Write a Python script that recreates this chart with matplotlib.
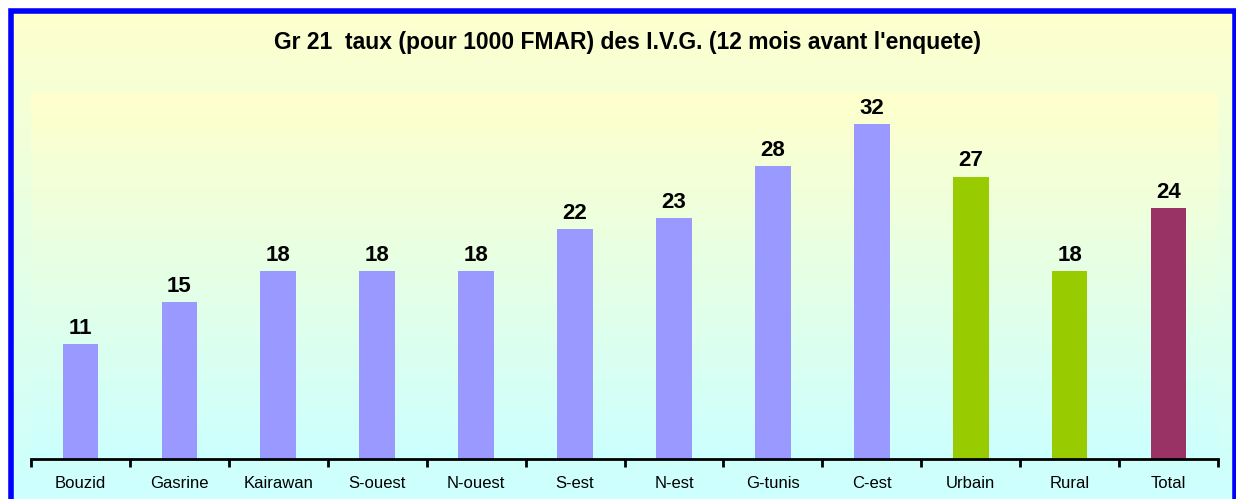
import matplotlib
matplotlib.use("Agg")
import matplotlib.pyplot as plt
import numpy as np
from matplotlib.colors import LinearSegmentedColormap
from matplotlib.patches import Rectangle

categories = ["Bouzid", "Gasrine", "Kairawan", "S-ouest", "N-ouest", "S-est",
              "N-est", "G-tunis", "C-est", "Urbain", "Rural", "Total"]
values = [11, 15, 18, 18, 18, 22, 23, 28, 32, 27, 18, 24]
colors = ["#9999FF"] * 9 + ["#99CC00", "#99CC00", "#993366"]
title = "Gr 21  taux (pour 1000 FMAR) des I.V.G. (12 mois avant l'enquete)"

plt.rcParams['font.family'] = ['Liberation Sans', 'DejaVu Sans']

W, H = 1236, 499
fig = plt.figure(figsize=(W / 100, H / 100), dpi=100)

cmap = LinearSegmentedColormap.from_list("bg", ["#FFFFCC", "#CCFFFF"])
grad = np.linspace(0, 1, 256).reshape(-1, 1)

# figure background gradient
bg = fig.add_axes([0, 0, 1, 1], zorder=0)
bg.imshow(grad, aspect='auto', cmap=cmap, extent=[0, 1, 0, 1], origin='upper')
bg.set_xlim(0, 1)
bg.set_ylim(0, 1)
bg.axis('off')
# white margin outside border
bg.add_patch(Rectangle((0, 1 - 8 / H), 1, 8 / H, color='white', transform=bg.transAxes, zorder=2))
bg.add_patch(Rectangle((0, 0), 8 / W, 1, color='white', transform=bg.transAxes, zorder=2))
# blue border
bg.add_patch(Rectangle((10.5 / W, -0.05), (1234.5 - 10.5) / W, 1 - 10.5 / H + 0.05,
                       fill=False, edgecolor='#0000FF', linewidth=4, transform=bg.transAxes, zorder=3))

# plot axes
x0, x1 = 31, 1218
ytop, ybot = 93, 459
ax = fig.add_axes([x0 / W, (H - ybot) / H, (x1 - x0) / W, (ybot - ytop) / H], zorder=1)
ax.set_facecolor('none')
ax.imshow(grad, aspect='auto', cmap=cmap, extent=[-0.5, len(categories) - 0.5, 0, 35],
          origin='upper', zorder=0)

xpos = np.arange(len(categories))
ax.bar(xpos, values, width=0.36, color=colors, zorder=2)
for x, v in zip(xpos, values):
    ax.text(x, v + 0.5, f"{v}", ha='center', va='bottom', fontsize=16, fontweight='bold', color='black')

ax.set_xlim(-0.5, len(categories) - 0.5)
ax.set_ylim(0, 35)
ax.set_yticks([])
for s in ['top', 'right', 'left']:
    ax.spines[s].set_visible(False)
ax.spines['bottom'].set_linewidth(2)
ax.spines['bottom'].set_color('black')
ax.set_xticks(np.arange(-0.5, len(categories), 1.0), minor=False)
ax.set_xticklabels([])
ax.tick_params(axis='x', which='major', length=6, width=2, direction='out')
ax.set_xticks(xpos, minor=True)
ax.set_xticklabels(categories, minor=True, fontsize=12)
ax.tick_params(axis='x', which='minor', length=0, pad=12)

fig.text(0.5 * (272 + 983) / W, 1 - 43 / H, title, ha='center', va='center',
         fontsize=16.5, fontweight='bold')

fig.savefig("out.png", dpi=100)
